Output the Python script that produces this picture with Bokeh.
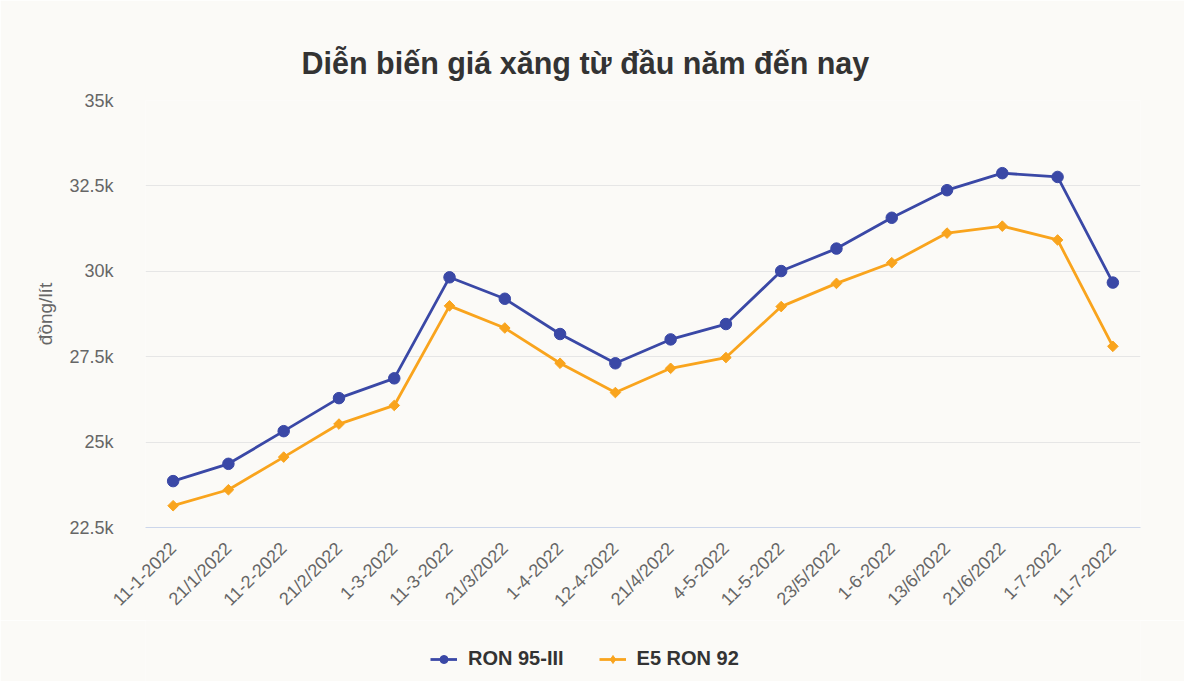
from math import pi
from bokeh.plotting import figure
from bokeh.layouts import column
from bokeh.models import (Range1d, Legend, LegendItem,
                          FixedTicker, CustomJSTickFormatter)
from bokeh.embed import file_html
from bokeh.resources import INLINE

dates = ["11-1-2022", "21/1/2022", "11-2-2022", "21/2/2022", "1-3-2022", "11-3-2022",
         "21/3/2022", "1-4-2022", "12-4-2022", "21/4/2022", "4-5-2022", "11-5-2022",
         "23/5/2022", "1-6-2022", "13/6/2022", "21/6/2022", "1-7-2022", "11-7-2022"]
ron95 = [23858, 24364, 25320, 26287, 26867, 29824, 29196, 28164, 27307,
         28006, 28456, 30007, 30665, 31567, 32374, 32873, 32762, 29670]
e5ron92 = [23138, 23605, 24561, 25528, 26073, 28989, 28340, 27308, 26451,
           27160, 27475, 28967, 29646, 30252, 31118, 31322, 30918, 27803]
yticks = [22500, 25000, 27500, 30000, 32500, 35000]
series_names = ["RON 95-III", "E5 RON 92"]

BG = "#fbfaf7"
BLUE = "#3a48a6"
ORANGE = "#f9a41d"
FONT = "Liberation Sans"
W = 1184

p = figure(width=W, height=620, x_range=dates, y_range=Range1d(22500, 35000),
           output_backend="svg", toolbar_location=None,
           title="Diễn biến giá xăng từ đầu năm đến nay",
           min_border_left=145, min_border_right=44, min_border_top=100, min_border_bottom=93)
p.background_fill_color = BG
p.border_fill_color = BG
p.outline_line_color = None

p.title.align = "left"
p.title.offset = 156
p.title.standoff = 41
p.title.text_font = FONT
p.title.text_font_size = "30.5px"
p.title.text_font_style = "bold"
p.title.text_color = "#333333"

p.xgrid.grid_line_color = None
p.ygrid.grid_line_color = "#e6e6e6"
p.ygrid.grid_line_width = 1

p.yaxis.ticker = FixedTicker(ticks=yticks)
p.yaxis.formatter = CustomJSTickFormatter(code="return (tick/1000) + 'k';")
p.yaxis.axis_line_color = None
p.yaxis.major_tick_line_color = None
p.yaxis.minor_tick_line_color = None
p.yaxis.major_label_text_font = FONT
p.yaxis.major_label_text_font_size = "18px"
p.yaxis.major_label_text_color = "#666666"
p.yaxis.major_label_standoff = 26
p.yaxis.axis_label = "đồng/lít"
p.yaxis.axis_label_text_font = FONT
p.yaxis.axis_label_text_font_style = "normal"
p.yaxis.axis_label_text_font_size = "19px"
p.yaxis.axis_label_text_color = "#666666"
p.yaxis.axis_label_standoff = 10

p.xaxis.axis_line_color = "#ccd6eb"
p.xaxis.axis_line_width = 1
p.xaxis.major_tick_line_color = None
p.xaxis.minor_tick_line_color = None
p.xaxis.major_label_orientation = pi / 4
p.xaxis.major_label_text_font = FONT
p.xaxis.major_label_text_font_size = "18px"
p.xaxis.major_label_text_color = "#666666"
p.xaxis.major_label_standoff = 12

p.line(dates, ron95, line_color=BLUE, line_width=2.8)
p.scatter(dates, ron95, marker="circle", size=11.5, fill_color=BLUE, line_color=BLUE)
p.line(dates, e5ron92, line_color=ORANGE, line_width=2.8)
p.scatter(dates, e5ron92, marker="square", angle=pi / 4, size=7.5,
          fill_color=ORANGE, line_color=ORANGE)

# legend strip below the chart (renderers lie outside its visible range)
q = figure(width=W, height=61, x_range=dates, y_range=Range1d(0, 1),
           output_backend="svg", toolbar_location=None,
           min_border_left=0, min_border_right=0, min_border_top=0, min_border_bottom=0)
q.axis.visible = False
q.grid.visible = False
q.outline_line_color = None
q.background_fill_color = BG
q.border_fill_color = BG
ql1 = q.line(dates, ron95, line_color=BLUE, line_width=2.8)
qs1 = q.scatter(dates, ron95, marker="circle", size=11.5, fill_color=BLUE, line_color=BLUE)
ql2 = q.line(dates, e5ron92, line_color=ORANGE, line_width=2.8)
qs2 = q.scatter(dates, e5ron92, marker="diamond", size=12,
                fill_color=ORANGE, line_color=ORANGE)

legend = Legend(items=[LegendItem(label=series_names[0], renderers=[ql1, qs1]),
                       LegendItem(label=series_names[1], renderers=[ql2, qs2])],
                orientation="horizontal", location=(285, 11),
                background_fill_alpha=0, border_line_color=None,
                label_text_font=FONT, label_text_font_size="20px",
                label_text_font_style="bold", label_text_color="#333333",
                glyph_width=27, label_standoff=11, spacing=35, margin=0, padding=4)
q.add_layout(legend)

open("out.html", "w").write(file_html(column(p, q, spacing=0), INLINE))
